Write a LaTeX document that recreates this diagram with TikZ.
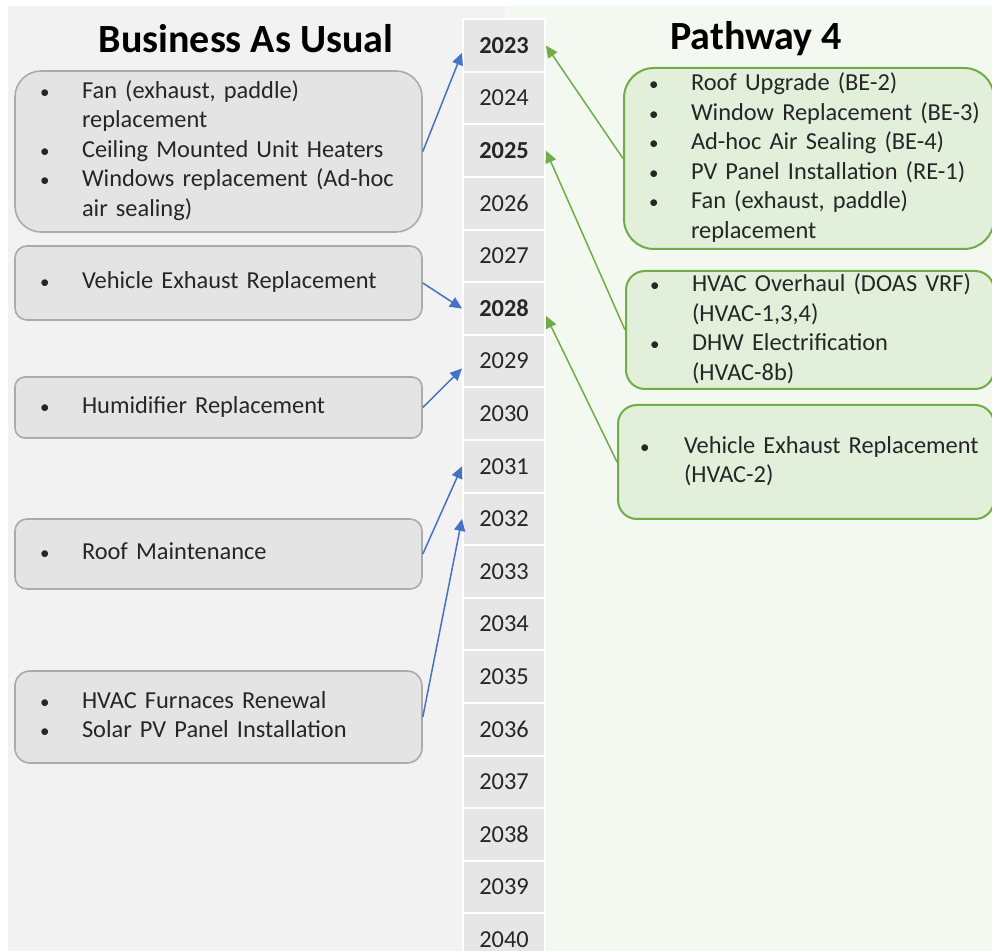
\documentclass[tikz,border=0pt]{standalone}
\usepackage{fontspec}
\setmainfont{Carlito}
\usetikzlibrary{arrows.meta}

\definecolor{bauback}{HTML}{F2F2F2}
\definecolor{pwback}{HTML}{F3F8F0}
\definecolor{yearfill}{HTML}{E6E6E6}
\definecolor{baufill}{HTML}{E4E4E4}
\definecolor{bauline}{HTML}{ABABAB}
\definecolor{pwfill}{HTML}{E2EFDA}
\definecolor{pwline}{HTML}{70AD47}
\definecolor{bauarrow}{HTML}{4472C4}
\definecolor{txt}{HTML}{262626}

% small bullet, and a bullet list: bullet column of width #1, then the item lines
\newcommand{\bul}{{\fontsize{9.5}{9.5}\selectfont\textbullet}}
\newcommand{\blist}[2][21pt]{\begin{tabular}{@{}p{#1}@{}l@{}}#2\end{tabular}}

\begin{document}
\begin{tikzpicture}[x=0.5pt,y=-0.5pt,
  every node/.style={font=\fontsize{12.2}{14.75}\selectfont, text=txt},
  title/.style={font=\fontsize{20}{24}\selectfont\bfseries, text=black},
  yearcell/.style={fill=yearfill, draw=white, line width=1pt, minimum width=41pt, minimum height=26.3pt, inner sep=0pt},
  baubox/.style={draw=bauline, fill=baufill, line width=0.8pt, inner xsep=12.5pt, inner ysep=0pt, text width=178.5pt, align=left},
  pwbox/.style={draw=pwline, fill=pwfill, line width=1pt, inner ysep=0pt, align=left},
  bauarr/.style={draw=bauarrow, line width=0.75pt, -{Triangle[length=6pt,width=5.5pt]}},
  pwarr/.style={draw=pwline, line width=0.75pt, -{Triangle[length=6pt,width=5.5pt]}}]
\useasboundingbox (0,0) rectangle (992,951);
\clip (0,0) rectangle (992,951);
\fill[white] (0,0) rectangle (992,951);
\fill[bauback] (8,6) rectangle (505,951);
\fill[pwback] (505,6) rectangle (992,951);

% headings
\node[title] (bautitle) at (246,39) {Business As Usual};
\node[title] (pwtitle) at (756,39) {Pathway 4};

% year column
\foreach \yr/\wt [count=\i from 0] in {2023/1,2024/0,2025/1,2026/0,2027/0,2028/1,2029/0,2030/0,2031/0,2032/0,2033/0,2034/0,2035/0,2036/0,2037/0,2038/0,2039/0,2040/0}
  \node[yearcell] (y\yr) at (504,{45.5+52.6*\i}) {\ifnum\wt=1\bfseries\fi\yr};

% business as usual
\node[baubox, rounded corners=13pt, minimum height=80.5pt] (bau1) at (218.5,151.5)
  {\blist{\bul & Fan (exhaust, paddle)\\ & replacement\\ \bul & Ceiling Mounted Unit Heaters\\ \bul & Windows replacement (Ad-hoc\\ & air sealing)}};
\node[baubox, rounded corners=6pt, minimum height=37pt] (bau2) at (218.5,283)
  {\blist{\bul & Vehicle Exhaust Replacement}};
\node[baubox, rounded corners=5pt, minimum height=30.5pt] (bau3) at (218.5,407.5)
  {\blist{\bul & Humidifier Replacement}};
\node[baubox, rounded corners=6pt, minimum height=35pt] (bau4) at (218.5,554)
  {\blist{\bul & Roof Maintenance}};
\node[baubox, rounded corners=7.5pt, minimum height=46pt] (bau5) at (218.5,717)
  {\blist{\bul & HVAC Furnaces Renewal\\ \bul & Solar PV Panel Installation}};

% pathway 4
\node[pwbox, rounded corners=15pt, inner xsep=12.5pt, text width=160pt, minimum height=90.5pt] (pw1) at (809,158.5)
  {\raisebox{-1.5pt}{\blist{\bul & Roof Upgrade (BE-2)\\ \bul & Window Replacement (BE-3)\\ \bul & Ad-hoc Air Sealing (BE-4)\\ \bul & PV Panel Installation (RE-1)\\ \bul & Fan (exhaust, paddle)\\ & replacement}}};
\node[pwbox, rounded corners=9.5pt, inner xsep=12pt, text width=160pt, minimum height=57pt] (pw2) at (810,330)
  {\blist{\bul & HVAC Overhaul (DOAS VRF)\\ & (HVAC-1,3,4)\\ \bul & DHW Electrification\\ & (HVAC-8b)}};
\node[pwbox, rounded corners=9.5pt, inner xsep=11pt, text width=166pt, minimum height=57pt] (pw3) at (806,462)
  {\blist[22pt]{\bul & Vehicle Exhaust Replacement\\ & (HVAC-2)}};

% connectors to the years
\draw[bauarr] (bau1.east) -- (y2023.190);
\draw[bauarr] (bau2.east) -- (y2028.west);
\draw[bauarr] (bau3.east) -- (y2029.190);
\draw[bauarr] (bau4.east) -- (y2031.west);
\draw[bauarr] (bau5.east) -- (y2032.west);
\draw[pwarr] (pw1.west) -- (y2023.east);
\draw[pwarr] (pw2.west) -- (y2025.east);
\draw[pwarr] (pw3.west) -- (y2028.350);
\end{tikzpicture}
\end{document}
